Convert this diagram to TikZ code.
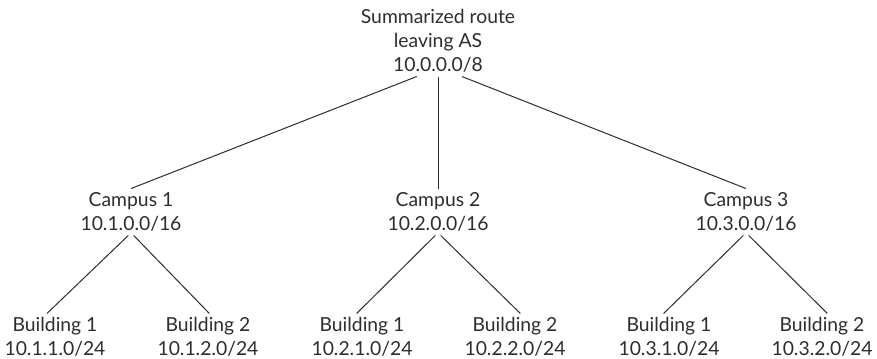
\documentclass[tikz,border=0pt]{standalone}
\usepackage{fontspec}
\setmainfont{Lato}
\usetikzlibrary{positioning}
\definecolor{TextGray}{RGB}{45, 45, 45}
\tikzset{
  netnode/.style={align=center, inner sep=0pt, outer sep=3pt, text=TextGray,
    font=\fontsize{14.5}{18}\selectfont},
  link/.style={draw=TextGray, line width=0.75pt}
}

\begin{document}
\begin{tikzpicture}[x=0.75pt, y=-0.75pt]
  \useasboundingbox (0,0) rectangle (877,359);
  % summarized route
  \node[netnode] (as) at (438,41) {Summarized route\\leaving AS\\10.0.0.0/8};
  % campuses
  \node[netnode] (c1) at (131,212) {Campus 1\\10.1.0.0/16};
  \node[netnode] (c2) at (438,212) {Campus 2\\10.2.0.0/16};
  \node[netnode] (c3) at (746,212) {Campus 3\\10.3.0.0/16};
  % buildings
  \node[netnode] (b11) at (55,337) {Building 1\\10.1.1.0/24};
  \node[netnode] (b12) at (208,337) {Building 2\\10.1.2.0/24};
  \node[netnode] (b21) at (362,337) {Building 1\\10.2.1.0/24};
  \node[netnode] (b22) at (515,337) {Building 2\\10.2.2.0/24};
  \node[netnode] (b31) at (669,337) {Building 1\\10.3.1.0/24};
  \node[netnode] (b32) at (822,337) {Building 2\\10.3.2.0/24};

  \draw[link] ([xshift=-16pt]as.south) -- (c1.north);
  \draw[link] (as.south) -- (c2.north);
  \draw[link] ([xshift=18pt]as.south) -- (c3.north);

  \draw[link] ([xshift=-2pt]c1.south) -- ([xshift=-6pt]b11.north);
  \draw[link] ([xshift=2pt]c1.south) -- ([xshift=1pt]b12.north);
  \draw[link] ([xshift=-2pt]c2.south) -- ([xshift=-4pt]b21.north);
  \draw[link] ([xshift=2pt]c2.south) -- ([xshift=4pt]b22.north);
  \draw[link] ([xshift=-2pt]c3.south) -- ([xshift=-4pt]b31.north);
  \draw[link] ([xshift=2pt]c3.south) -- ([xshift=4pt]b32.north);
\end{tikzpicture}
\end{document}
